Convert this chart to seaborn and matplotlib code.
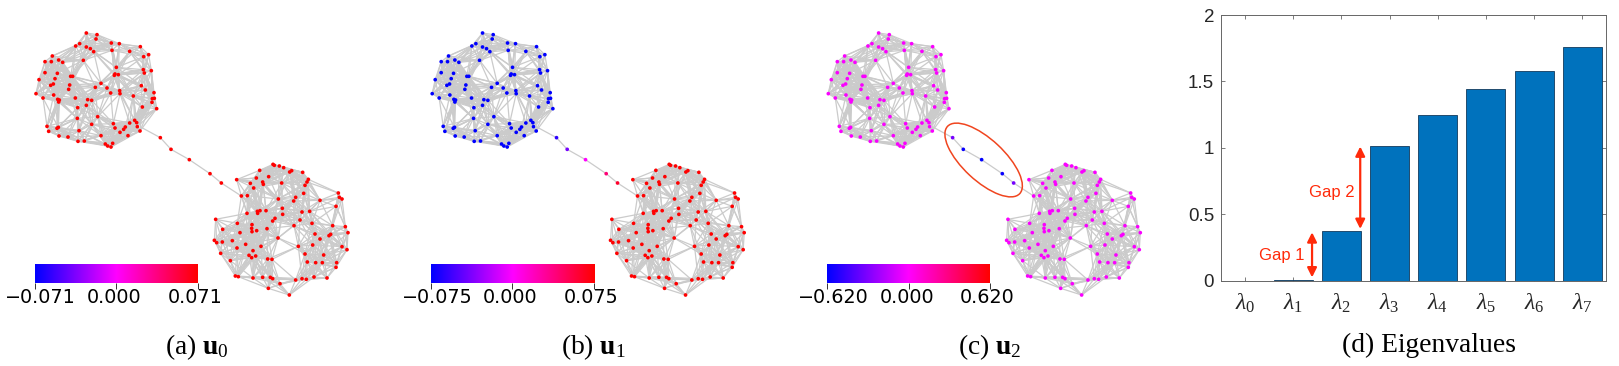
#!/usr/bin/env python3
import numpy as np
import pandas as pd
import matplotlib
matplotlib.use('Agg')
import matplotlib.pyplot as plt
import seaborn as sns
from matplotlib.collections import LineCollection
from matplotlib.colors import LinearSegmentedColormap
from matplotlib.patches import Ellipse

## node layout (units are 1/3 px of panel a)
cluster1_xy = [(259,99),(291,104),(288,117),(239,131),(227,138),(259,141),(271,146),(281,155),(334,129),(358,131),
    (336,151),(389,154),(421,140),(446,164),(431,170),(157,168),(135,185),(154,185),(176,180),(188,187),(250,181),
    (349,202),(430,209),(454,212),(433,219),(135,218),(172,220),(345,222),(355,224),(343,226),(212,229),(218,229),
    (117,239),(165,236),(160,252),(152,256),(209,255),(206,268),(303,250),(286,262),(321,264),(359,272),(360,281),
    (332,279),(424,257),(436,270),(462,278),(108,281),(129,294),(161,285),(173,298),(178,300),(176,306),(226,294),
    (263,299),(275,301),(259,316),(233,323),(400,288),(463,295),(457,296),(456,307),(470,326),(427,321),(293,350),
    (232,355),(404,361),(410,368),(389,369),(412,380),(376,381),(371,388),(340,371),(345,384),(360,397),(384,407),
    (420,393),(275,373),(141,379),(146,394),(171,385),(175,382),(237,392),(303,407),(177,408),(204,411),(234,424),
    (253,423),(316,432),(323,438),(333,441),(338,430)]
bridge_xy = [(481,413),(513,448),(568,479),(630,521),(664,549)]
cluster2_xy = [(819,493),(823,496),(838,498),(851,503),(779,511),(806,530),(869,516),(875,512),(908,517),(710,539),
    (769,534),(751,550),(788,546),(790,553),(761,564),(925,538),(921,546),(915,556),(845,549),(911,580),(724,588),
    (742,587),(1015,579),(1018,592),(1026,597),(960,601),(887,592),(881,603),(835,597),(1008,619),(847,625),(848,643),
    (772,634),(780,632),(798,632),(773,640),(741,640),(906,636),(929,634),(647,658),(825,655),(818,663),(900,660),
    (936,670),(712,670),(756,674),(755,685),(756,695),(770,692),(720,698),(801,686),(882,677),(998,677),(1036,680),
    (668,688),(1044,698),(992,703),(987,707),(945,702),(960,717),(834,714),(697,722),(643,721),(650,728),(667,726),
    (711,744),(737,733),(783,739),(895,739),(938,735),(1026,740),(1041,749),(759,752),(662,760),(747,766),(755,773),
    (767,768),(915,762),(971,765),(691,782),(803,777),(816,778),(922,786),(947,788),(967,788),(1010,788),(1008,802),
    (706,828),(715,830),(759,834),(788,832),(811,832),(818,836),(906,836),(919,838),(942,831),(981,834),(887,840),
    (840,851),(805,865),(868,885)]

## eigenvector values: one level per cluster, individual values on the bridge
panel_labels = ['a', 'b', 'c']
panel_sub = ['0', '1', '2']
panel_max = [0.071, 0.075, 0.620]
cluster1_val = [0.071, -0.075, -0.012]
cluster2_val = [0.071, 0.075, -0.012]
bridge_val = [[0.071, 0.071, 0.071, 0.071, 0.071],
              [-0.062, -0.040, 0.000, 0.040, 0.062],
              [-0.33, -0.60, -0.62, -0.60, -0.33]]

eig_names = ['$\\lambda_{%d}$' % i for i in range(8)]
eig_values = [0.0, 0.003, 0.375, 1.015, 1.245, 1.44, 1.575, 1.76]

sns.set_theme(style='white')
plt.rcParams['font.family'] = ['Liberation Sans', 'DejaVu Sans']
plt.rcParams['mathtext.fontset'] = 'custom'
plt.rcParams['mathtext.rm'] = 'Liberation Serif'
plt.rcParams['mathtext.it'] = 'Liberation Serif:italic'
plt.rcParams['mathtext.bf'] = 'Liberation Serif:bold'

cmap = LinearSegmentedColormap.from_list('bmr', ['#0000ff', '#ff00ff', '#ff0000'])
W, H = 1619, 366
PANEL_W = 396
OFFSETS = [0, 396.2, 792.3]
EDGE_RADIUS = 100


def make_edges(pts, radius):
    pts = np.array(pts, dtype=float)
    segs = []
    for i in range(len(pts)):
        for j in range(i + 1, len(pts)):
            if np.hypot(*(pts[i] - pts[j])) < radius:
                segs.append([pts[i], pts[j]])
    return segs


def draw_graph(fig, idx):
    ax = fig.add_axes([OFFSETS[idx] / W, 0, PANEL_W / W, 1])
    ax.set_xlim(0, PANEL_W * 3)
    ax.set_ylim(H * 3, 0)
    ax.axis('off')
    ax.patch.set_alpha(0)

    segs = make_edges(cluster1_xy, EDGE_RADIUS) + make_edges(cluster2_xy, EDGE_RADIUS)
    chain = [(420, 380)] + bridge_xy + [(724, 588)]
    segs += [[chain[i], chain[i + 1]] for i in range(len(chain) - 1)]
    ax.add_collection(LineCollection(segs, colors='#cbcbcb', linewidths=0.9, zorder=1))

    xy = np.array(cluster1_xy + bridge_xy + cluster2_xy)
    vals = [cluster1_val[idx]] * len(cluster1_xy) + bridge_val[idx] + [cluster2_val[idx]] * len(cluster2_xy)
    df = pd.DataFrame({'x': xy[:, 0], 'y': xy[:, 1], 'u': vals})
    m = panel_max[idx]
    sns.scatterplot(data=df, x='x', y='y', hue='u', palette=cmap, hue_norm=(-m, m), s=7,
                    linewidth=0, legend=False, ax=ax, zorder=2)
    ax.set_xlim(0, PANEL_W * 3)
    ax.set_ylim(H * 3, 0)

    ## colorbar
    left = (OFFSETS[idx] + 34.7) / W
    cax = fig.add_axes([left, 1 - 283.3 / H, 163 / W, 19 / H])
    cax.imshow(np.linspace(-1, 1, 256)[None, :], aspect='auto', cmap=cmap, extent=[-m, m, 0, 1])
    cax.set_yticks([])
    cax.set_xticks([-m, 0, m])
    cax.set_xticklabels([])
    cax.tick_params(axis='x', length=4, width=0.7, color='#333333', bottom=True)
    for s in cax.spines.values():
        s.set_visible(False)
    for x, lab in [(122, '\u2212%.3f' % m), (343, '0.000'), (585, '%.3f' % m)]:
        ax.text(x, 893, lab, ha='center', va='center', fontsize=13.8, color='black', family='DejaVu Sans')

    ax.text(592, 1042, '(%s) $\\mathbf{u}_{%s}$' % (panel_labels[idx], panel_sub[idx]), ha='center', va='center',
            fontsize=19.8, family='Liberation Serif', color='black')

    if idx == 2:
        ax.add_patch(Ellipse((574, 480), 296, 124, angle=43, fill=False, edgecolor='#f0451f', linewidth=1.1, zorder=3))


fig = plt.figure(figsize=(W / 100, H / 100), dpi=100)
for k in range(3):
    draw_graph(fig, k)

## eigenvalue bars
ax = fig.add_axes([1221 / W, 1 - 280.7 / H, 385.4 / W, 265.7 / H])
sns.barplot(x=eig_names, y=eig_values, color='#0072BD', saturation=1, width=0.81, edgecolor='#123a5c',
            linewidth=0.6, ax=ax)
ax.set_xlim(-0.5, 7.5)
ax.set_ylim(0, 2)
ax.set_yticks([0, 0.5, 1, 1.5, 2])
ax.set_yticklabels(['0', '0.5', '1', '1.5', '2'])
ax.tick_params(axis='both', direction='in', length=3, width=0.6, color='#666666', labelcolor='#262626', labelsize=13.5)
ax.tick_params(axis='y', right=True, left=True, pad=5)
ax.tick_params(axis='x', top=True, bottom=True, pad=8, labelsize=17)
for s in ax.spines.values():
    s.set_color('#666666')
    s.set_linewidth(0.7)

red = '#ff2a0a'
for x, y0, y1 in [(1.39, 0.025, 0.364), (2.39, 0.39, 1.01)]:
    ax.annotate('', xy=(x, y1), xytext=(x, y0),
                arrowprops=dict(arrowstyle='<|-|>', color=red, lw=1.6, shrinkA=0, shrinkB=0, mutation_scale=14))
ax.text(0.76, 0.186, 'Gap 1', color=red, fontsize=12, ha='center', va='center')
ax.text(1.79, 0.665, 'Gap 2', color=red, fontsize=12, ha='center', va='center')

fig.text(1428.5 / W, 1 - 345 / H, '(d) Eigenvalues', ha='center', va='center', fontsize=19.8,
         family='Liberation Serif', color='black')

fig.savefig('out.png', dpi=100)
